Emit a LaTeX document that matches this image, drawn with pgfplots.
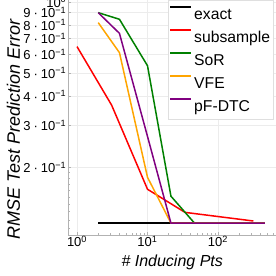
\documentclass[border=0pt]{standalone}
\usepackage{pgfplots}
\pgfplotsset{compat=1.18}
\usepackage{fontspec}
\setmainfont{Liberation Sans}
\definecolor{sorgreen}{RGB}{0,128,0}
\definecolor{vfeorange}{RGB}{255,165,0}
\definecolor{dtcpurple}{RGB}{128,0,128}
\newcommand{\yl}[1]{#1\hspace{3pt}·\hspace{3pt}10\textsuperscript{−1}}
\begin{document}
\begin{tikzpicture}
\begin{axis}[
  at={(0,0)}, anchor=south west,
  scale only axis, width=208pt, height=235pt,
  xmode=log, ymode=log,
  xmin=0.745, xmax=665, ymin=0.1035, ymax=1.018,
  axis x line*=bottom, axis y line*=left,
  axis line style={-, draw=gray!60, line width=0.6pt},
  xtick={1,10,100},
  xticklabels={10\textsuperscript{0},10\textsuperscript{1},10\textsuperscript{2}},
  minor xtick={2,3,4,5,6,7,8,9,20,30,40,50,60,70,80,90,200,300,400,500,600},
  ytick={0.2,0.3,0.4,0.5,0.6,0.7,0.8,0.9,1},
  yticklabels={\yl{2},\yl{3},\yl{4},\yl{5},\yl{6},\yl{7},\yl{8},\yl{9},10\textsuperscript{0}},
  minor ytick={0.11,0.12,0.13,0.14,0.15,0.16,0.17,0.18,0.19},
  grid=major,
  major grid style={gray!15, line width=0.5pt},
  tick align=inside,
  major tick length=3pt, minor tick length=2pt,
  tick style={gray!60, line width=0.5pt},
  ticklabel style={font=\fontsize{13}{13}\selectfont},
  xticklabel style={inner sep=1pt},
  yticklabel style={inner sep=1.5pt},
  xlabel={\# Inducing Pts},
  xlabel style={font=\fontsize{16}{16}\selectfont\itshape, at={(axis description cs:0.501,-0.115)}, anchor=center},
  ylabel={RMSE Test Prediction Error},
  ylabel style={font=\fontsize{18}{18}\selectfont\itshape, at={(axis description cs:-0.262,0.45)}, anchor=center},
  legend style={at={(axis description cs:0.481,0.494)}, anchor=south west,
    draw=gray!25, fill=white, font=\fontsize{15.7}{16}\selectfont,
    inner xsep=1pt, inner ysep=2pt, row sep=0pt,
    nodes={text height=15.5pt, text depth=3.5pt, inner sep=2pt}},
  legend cell align=left,
  legend image code/.code={\draw[#1, line width=2pt] (0pt,6.7pt) -- (21pt,6.7pt);},
]
\addplot[draw=black, line width=1.8pt] coordinates {(2,0.1162)(4,0.1162)(10,0.1162)(21.5,0.1162)(46.4,0.1162)(100,0.1162)(215,0.1162)(464,0.1162)};
\addlegendentry{exact}
\addplot[draw=red, line width=1.5pt] coordinates {(1,0.647)(3.1,0.366)(10,0.1615)(34,0.129)(318,0.1186)};
\addlegendentry{subsample}
\addplot[draw=sorgreen, line width=1.5pt] coordinates {(2,0.9)(4,0.844)(10,0.537)(21.5,0.151)(46.4,0.1162)(100,0.1162)(215,0.1162)(464,0.1162)};
\addlegendentry{SoR}
\addplot[draw=vfeorange, line width=1.5pt] coordinates {(2,0.817)(4,0.61)(10,0.1815)(21.5,0.1162)(46.4,0.1162)(100,0.1162)(215,0.1162)(464,0.1162)};
\addlegendentry{VFE}
\addplot[draw=dtcpurple, line width=1.5pt] coordinates {(2,0.9)(4,0.736)(10,0.27)(21.5,0.1162)(46.4,0.1162)(100,0.1162)(215,0.1162)(464,0.1162)};
\addlegendentry{pF-DTC}
\end{axis}
\pgfresetboundingbox
\useasboundingbox (-68pt,-41pt) rectangle (208pt,235pt);
\end{tikzpicture}
\end{document}
